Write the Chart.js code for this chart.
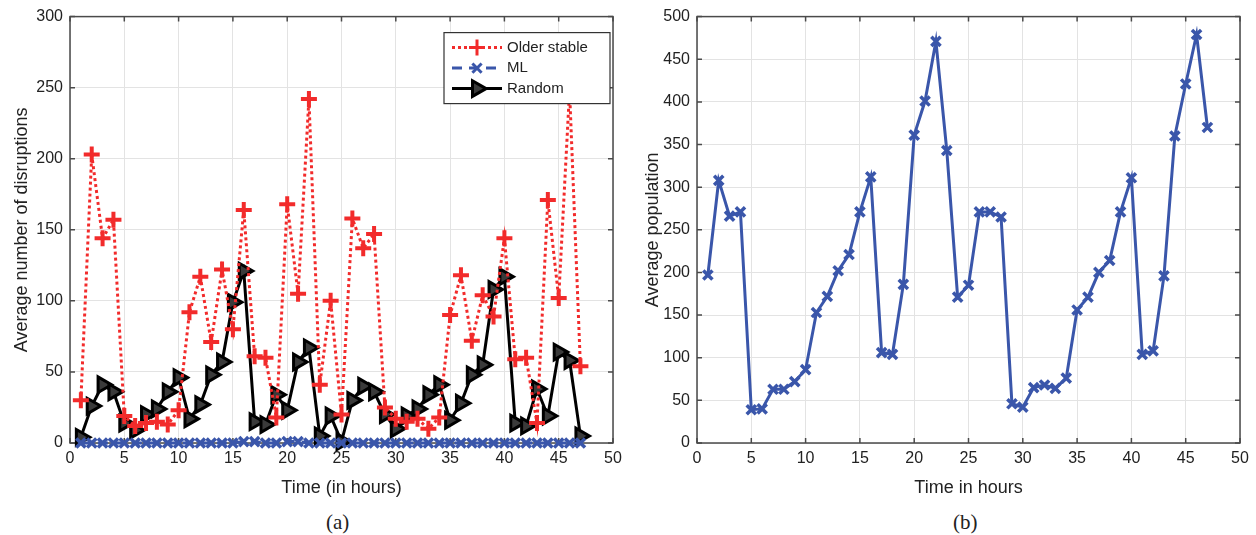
<!DOCTYPE html>
<html lang="en">
<head>
    <meta charset="UTF-8">
    <title>Disruptions and population over time</title>
    <style>
        body {
            margin: 0;
            padding: 0;
            background: #ffffff;
            width: 1256px;
            height: 535px;
            overflow: hidden;
            position: relative;
            font-family: 'Liberation Sans', Arial, sans-serif;
        }
        .panel {
            position: absolute;
            top: 0;
            height: 505px;
        }
        #panelA { left: 0; width: 640px; }
        #panelB { left: 640px; width: 616px; }
        .caption {
            position: absolute;
            top: 510px;
            font-family: 'Liberation Serif', 'Times New Roman', serif;
            font-size: 21px;
            color: #222;
        }
    </style>
    <script src="https://cdn.jsdelivr.net/npm/chart.js"></script>
</head>
<body>

<div class="panel" id="panelA"><canvas id="chartA" width="640" height="505"></canvas></div>
<div class="panel" id="panelB"><canvas id="chartB" width="616" height="505"></canvas></div>
<div class="caption" style="left:326px;">(a)</div>
<div class="caption" style="left:953px;">(b)</div>

<script>
    // values
    const hours = [1, 2, 3, 4, 5, 6, 7, 8, 9, 10, 11, 12, 13, 14, 15, 16, 17, 18, 19, 20, 21, 22, 23, 24,
                   25, 26, 27, 28, 29, 30, 31, 32, 33, 34, 35, 36, 37, 38, 39, 40, 41, 42, 43, 44, 45, 46, 47];
    const olderStable = [30, 203, 144, 157, 19, 12, 14, 15, 13, 23, 92, 117, 71, 122, 80, 164, 61, 60, 18, 168,
                         105, 242, 41, 100, 20, 158, 137, 147, 25, 17, 15, 17, 10, 18, 90, 118, 72, 104, 89, 144,
                         59, 60, 14, 171, 102, 248, 54];
    const mlValues = [0, 0, 0, 0, 0, 0, 0, 0, 0, 0, 0, 0, 0, 0, 0, 1, 1, 0, 0, 1,
                      1, 0, 0, 0, 0, 0, 0, 0, 0, 0, 0, 0, 0, 0, 0, 0, 0, 0, 0, 0,
                      0, 0, 0, 0, 0, 0, 0];
    const randomSel = [4, 26, 41, 36, 14, 9, 20, 24, 36, 46, 17, 27, 48, 57, 99, 121, 15, 13, 34, 23,
                       57, 67, 5, 19, 1, 30, 40, 36, 20, 10, 19, 24, 34, 41, 16, 28, 48, 55, 108, 117,
                       14, 12, 38, 19, 64, 58, 5];
    const population = [197, 308, 266, 271, 39, 40, 63, 63, 72, 86, 153, 172, 202, 221, 271, 312, 106, 104, 186, 361,
                        401, 471, 343, 171, 185, 271, 271, 265, 46, 42, 65, 68, 64, 76, 156, 171, 200, 214, 271, 311,
                        104, 108, 196, 360, 421, 479, 370];

    const RED = '#f22b2b';
    const BLUE = '#3a56aa';
    const BLACK = '#000000';
    const FONT = "'Liberation Sans', Arial, sans-serif";

    function pairs(ys) {
        return ys.map((y, i) => ({ x: hours[i], y: y }));
    }

    // MATLAB style box with inward ticks
    const boxPlugin = {
        id: 'box',
        beforeDatasetsDraw(chart) {
            const { ctx, chartArea: a, scales } = chart;
            ctx.save();
            ctx.strokeStyle = '#4a4a4a';
            ctx.lineWidth = 1.5;
            ctx.beginPath();
            scales.x.ticks.forEach(t => {
                const px = scales.x.getPixelForValue(t.value);
                ctx.moveTo(px, a.bottom); ctx.lineTo(px, a.bottom - 5);
                ctx.moveTo(px, a.top); ctx.lineTo(px, a.top + 5);
            });
            scales.y.ticks.forEach(t => {
                const py = scales.y.getPixelForValue(t.value);
                ctx.moveTo(a.left, py); ctx.lineTo(a.left + 5, py);
                ctx.moveTo(a.right, py); ctx.lineTo(a.right - 5, py);
            });
            ctx.stroke();
            ctx.strokeRect(a.left, a.top, a.right - a.left, a.bottom - a.top);
            ctx.restore();
        }
    };

    // boxed legend with line samples, top right inside the plot
    const lineLegend = {
        id: 'lineLegend',
        afterDraw(chart) {
            if (!chart.options.plugins.lineLegend.show) return;
            const { ctx, chartArea: a } = chart;
            const w = 166, h = 71;
            const x0 = a.right - 3 - w, y0 = a.top + 16;
            ctx.save();
            ctx.fillStyle = '#ffffff';
            ctx.fillRect(x0, y0, w, h);
            ctx.strokeStyle = '#333';
            ctx.lineWidth = 1.2;
            ctx.strokeRect(x0, y0, w, h);
            ctx.font = '15px ' + FONT;
            ctx.textBaseline = 'middle';
            chart.data.datasets.forEach((ds, i) => {
                const cy = y0 + 15 + i * 20.5;
                const lx1 = x0 + 8, lx2 = x0 + 58;
                ctx.strokeStyle = ds.borderColor;
                ctx.lineWidth = ds.borderWidth;
                ctx.setLineDash(ds.borderDash || []);
                ctx.beginPath();
                ctx.moveTo(lx1, cy); ctx.lineTo(lx2, cy);
                ctx.stroke();
                ctx.setLineDash([]);
                ctx.fillStyle = ds.pointBackgroundColor || ds.borderColor;
                Chart.helpers.drawPoint(ctx, {
                    pointStyle: ds.pointStyle,
                    rotation: ds.pointRotation || 0,
                    radius: ds.pointRadius,
                    borderWidth: ds.pointBorderWidth
                }, (lx1 + lx2) / 2, cy);
                ctx.fillStyle = '#222';
                ctx.fillText(ds.label, x0 + 63, cy);
            });
            ctx.restore();
        }
    };

    function axes(yMax, yTitle, xTitle, yWidth, yTitlePad) {
        return {
            x: {
                type: 'linear', min: 0, max: 50,
                ticks: { stepSize: 5, color: '#222', font: { family: FONT, size: 16 }, padding: 6, maxRotation: 0 },
                grid: { color: '#e3e3e3', lineWidth: 1, drawTicks: false },
                border: { display: false },
                title: { display: true, text: xTitle, color: '#222', font: { family: FONT, size: 18 }, padding: { top: 4, bottom: 6 } },
                afterFit(scale) { scale.height = 62; }
            },
            y: {
                min: 0, max: yMax,
                ticks: { stepSize: 50, color: '#222', font: { family: FONT, size: 16 }, padding: 7 },
                grid: { color: '#e3e3e3', lineWidth: 1, drawTicks: false },
                border: { display: false },
                title: { display: true, text: yTitle, color: '#222', font: { family: FONT, size: 18 }, padding: { top: yTitlePad, bottom: 0 } },
                afterFit(scale) { scale.width = yWidth; }
            }
        };
    }

    new Chart(document.getElementById('chartA'), {
        type: 'line',
        data: {
            datasets: [{
                label: 'Older stable',
                data: pairs(olderStable),
                borderColor: RED,
                backgroundColor: RED,
                borderWidth: 3,
                borderDash: [3, 3],
                pointStyle: 'cross',
                pointRadius: 8,
                pointBorderWidth: 4,
                pointBorderColor: RED,
                tension: 0,
                clip: false
            }, {
                label: 'ML',
                data: pairs(mlValues),
                borderColor: BLUE,
                backgroundColor: BLUE,
                borderWidth: 3,
                borderDash: [10, 7],
                pointStyle: 'crossRot',
                pointRadius: 6.5,
                pointBorderWidth: 3.5,
                pointBorderColor: BLUE,
                tension: 0,
                clip: false
            }, {
                label: 'Random',
                data: pairs(randomSel),
                borderColor: BLACK,
                backgroundColor: '#3a3a3a',
                borderWidth: 3,
                pointStyle: 'triangle',
                pointRotation: 90,
                pointRadius: 9,
                pointBorderWidth: 3,
                pointBorderColor: BLACK,
                pointBackgroundColor: '#3a3a3a',
                tension: 0,
                clip: false
            }]
        },
        options: {
            responsive: false,
            animation: false,
            layout: { padding: { left: 0, top: 15, right: 27, bottom: 0 } },
            scales: axes(300, 'Average number of disruptions', 'Time (in hours)', 70, 11),
            plugins: {
                legend: { display: false },
                tooltip: { enabled: false },
                lineLegend: { show: true }
            }
        },
        plugins: [boxPlugin, lineLegend]
    });

    new Chart(document.getElementById('chartB'), {
        type: 'line',
        data: {
            datasets: [{
                label: 'Average population',
                data: pairs(population),
                borderColor: BLUE,
                backgroundColor: BLUE,
                borderWidth: 3,
                pointStyle: 'crossRot',
                pointRadius: 6.5,
                pointBorderWidth: 3.5,
                pointBorderColor: BLUE,
                tension: 0,
                clip: false
            }]
        },
        options: {
            responsive: false,
            animation: false,
            layout: { padding: { left: 0, top: 15, right: 16, bottom: 0 } },
            scales: axes(500, 'Average population', 'Time in hours', 57, 2),
            plugins: {
                legend: { display: false },
                tooltip: { enabled: false },
                lineLegend: { show: false }
            }
        },
        plugins: [boxPlugin, lineLegend]
    });
</script>

</body>
</html>
